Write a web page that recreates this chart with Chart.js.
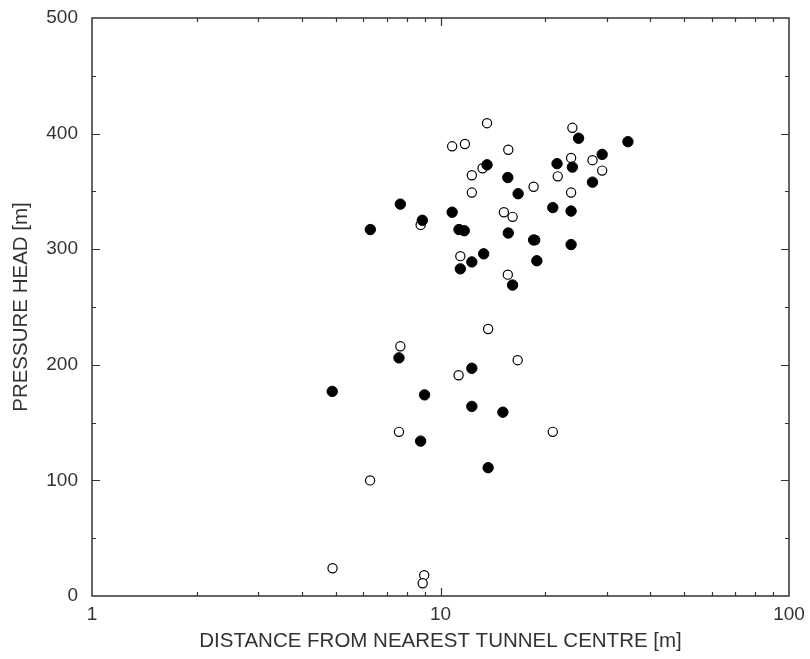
<!DOCTYPE html>
<html>
<head>
<meta charset="utf-8">
<script src="https://cdn.jsdelivr.net/npm/chart.js@4"></script>
<style>
  body { margin: 0; background: #fff; }
  #wrap { width: 810px; height: 659px; position: relative; }
</style>
</head>
<body>
<div id="wrap"><canvas id="chart" width="810" height="659"></canvas></div>
<script>
// filled circles
const filledX = [34.5, 24.9, 29.1, 21.6, 23.9, 13.6, 15.6, 16.7, 27.3, 7.67, 10.8, 21.0, 23.7, 8.87, 6.29, 11.3, 11.7, 15.65, 18.5, 23.7, 18.9, 13.3, 12.3, 11.4, 16.1,
                 7.6, 12.3, 4.89, 9.0, 12.3, 15.1, 8.77, 13.7]
const filledY = [393, 396, 382, 374, 371, 373, 362, 348, 358, 339, 332, 336, 333, 325, 317, 317, 316, 314, 308, 304, 290, 296, 289, 283, 269,
                 206, 197, 177, 174, 164, 159, 134, 111]
// open circles
const openX = [13.6, 23.9, 10.8, 11.75, 15.65, 23.7, 27.3, 13.2, 12.3, 21.7, 29.1, 12.3, 18.5, 23.7, 15.2, 16.1, 8.77, 18.7, 11.4, 15.6,
               13.7, 7.67, 16.65, 11.27, 21.0, 7.6, 6.28, 4.9, 8.98, 8.89]
const openY = [409, 405, 389, 391, 386, 379, 377, 370, 364, 363, 368, 349, 354, 349, 332, 328, 321, 308, 294, 278,
               231, 216, 204, 191, 142, 142, 100, 24, 18, 11]

const xTickValues = [1, 10, 100]
const xTitle = "DISTANCE FROM NEAREST TUNNEL CENTRE [m]"
const yTitle = "PRESSURE HEAD [m]"

const toPoints = (xs, ys) => xs.map((x, i) => ({ x: x, y: ys[i] }))

const frame = {
    id: "frame",
    afterDatasetsDraw(chart) {
        const ctx = chart.ctx
        const a = chart.chartArea
        const xs = chart.scales.x, ys = chart.scales.y
        ctx.save()
        ctx.strokeStyle = "#333"
        ctx.lineWidth = 1.5
        ctx.strokeRect(a.left, a.top, a.right - a.left, a.bottom - a.top)
        ctx.lineWidth = 1.2
        ctx.beginPath()
        // x ticks, log minor
        for (let d = 1; d < 100; d *= 10) {
            for (let m = 1; m <= 10; m++) {
                let v = d * m
                if (v <= 1 || v >= 100) continue
                let px = Math.round(xs.getPixelForValue(v)) + 0.5
                let len = (m == 10) ? 8 : 4
                ctx.moveTo(px, a.bottom); ctx.lineTo(px, a.bottom - len)
                ctx.moveTo(px, a.top); ctx.lineTo(px, a.top + len)
            }
        }
        // y ticks
        for (let v = 50; v < 500; v += 50) {
            let py = Math.round(ys.getPixelForValue(v)) + 0.5
            let len = (v % 100 == 0) ? 8 : 4
            ctx.moveTo(a.left, py); ctx.lineTo(a.left + len, py)
            ctx.moveTo(a.right, py); ctx.lineTo(a.right - len, py)
        }
        ctx.stroke()
        ctx.restore()
    }
}

Chart.defaults.font.family = "'Liberation Sans', Arial, sans-serif"
Chart.defaults.color = "#333"

new Chart(document.getElementById("chart"), {
    type: "scatter",
    data: {
        datasets: [{
            label: "filled",
            data: toPoints(filledX, filledY),
            pointRadius: 5.2,
            pointBackgroundColor: "#000",
            pointBorderColor: "#000",
            pointBorderWidth: 1
        }, {
            label: "open",
            data: toPoints(openX, openY),
            pointRadius: 4.6,
            pointBackgroundColor: "#fff",
            pointBorderColor: "#000",
            pointBorderWidth: 1.2
        }]
    },
    options: {
        responsive: false,
        animation: false,
        layout: { padding: { top: 18, right: 21, left: 0, bottom: 0 } },
        plugins: { legend: { display: false }, tooltip: { enabled: false } },
        scales: {
            x: {
                type: "logarithmic",
                min: 1, max: 100,
                grid: { display: false, drawTicks: false },
                border: { display: false },
                afterBuildTicks: (s) => { s.ticks = xTickValues.map(v => ({ value: v })) },
                ticks: { font: { size: 19 }, padding: 7, maxRotation: 0, callback: (v) => String(v) },
                title: { display: true, text: xTitle, font: { size: 20.5 }, padding: { top: 0, bottom: 5 } },
                afterFit: (s) => { s.height = 63; s.paddingLeft = 0; s.paddingRight = 0 }
            },
            y: {
                min: 0, max: 500,
                grid: { display: false, drawTicks: false },
                border: { display: false },
                ticks: { stepSize: 100, font: { size: 19 }, padding: 14 },
                title: { display: true, text: yTitle, font: { size: 20.5 }, padding: { top: 9, bottom: 0 } },
                afterFit: (s) => { s.width = 92; s.paddingTop = 0; s.paddingBottom = 0 }
            }
        }
    },
    plugins: [frame]
})
</script>
</body>
</html>
